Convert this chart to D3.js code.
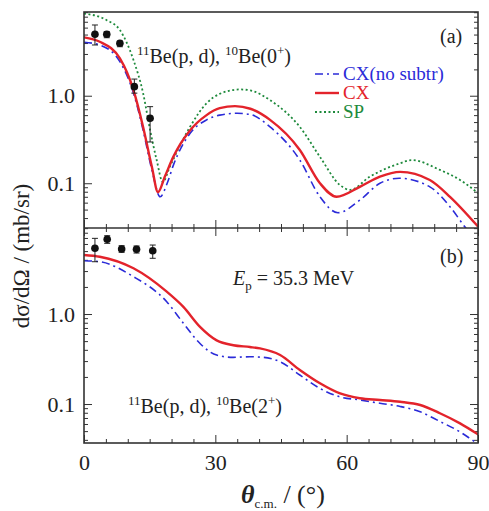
<!DOCTYPE html>
<html>
<head>
<meta charset="utf-8">
<script src="https://cdn.jsdelivr.net/npm/d3@7"></script>
<style>
  html, body { margin: 0; padding: 0; background: #fff; }
  svg text { font-family: "Liberation Serif", "Times New Roman", Times, serif; }
</style>
</head>
<body>
<svg id="chart" width="489" height="511"></svg>
<script>
// ---------- DATA ----------
// Panel (a): 11Be(p,d)10Be(0+)
const thetaA_CX   = [0, 3.6, 8.2, 11.3, 13.5, 15.5, 16.9, 18.5, 20.4, 24.2, 28, 31, 34.5, 38, 42.5, 49.3, 53.9, 57.7, 63, 67.6, 72.2, 79, 83.6, 90];
const valueA_CX   = [4.65, 4.14, 2.67, 1.16, 0.44, 0.154, 0.079, 0.12, 0.2, 0.4, 0.6, 0.72, 0.76, 0.71, 0.53, 0.24, 0.1, 0.07, 0.091, 0.119, 0.135, 0.109, 0.07, 0.032];
const thetaA_NoSub = [0, 3.6, 8.2, 11.3, 13.5, 15.5, 17.4, 19, 20.4, 24.2, 28, 31, 35, 38, 42.5, 49.3, 53.9, 58, 63, 67.6, 72, 79, 83.6, 87.4, 90];
const valueA_NoSub = [4.08, 3.8, 2.45, 1.07, 0.405, 0.142, 0.07, 0.1, 0.16, 0.37, 0.53, 0.6, 0.63, 0.61, 0.44, 0.184, 0.07, 0.046, 0.064, 0.1, 0.114, 0.091, 0.054, 0.03, 0.022];
const thetaA_SP   = [0, 5.2, 8.2, 11.3, 13.5, 15.1, 16.6, 18, 19.6, 24.2, 28, 31, 35.6, 38, 42.5, 49.3, 53.9, 58.5, 60.8, 65.3, 72.2, 74.8, 81.3, 85.9, 90];
const valueA_SP   = [8.7, 7.3, 5.63, 2.56, 1.07, 0.405, 0.184, 0.103, 0.154, 0.44, 0.82, 1.05, 1.18, 1.15, 0.89, 0.44, 0.2, 0.095, 0.084, 0.119, 0.169, 0.184, 0.142, 0.109, 0.077];
const thetaA_exp  = [2.5, 5.2, 8.2, 11.5, 15.1];
const valueA_exp  = [5.03, 5.03, 3.97, 1.27, 0.552];
const lowA_exp    = [3.8, 4.6, 3.63, 1.07, 0.296];
const highA_exp   = [6.43, 5.39, 4.2, 1.55, 0.75];

// Panel (b): 11Be(p,d)10Be(2+)
const thetaB_CX   = [0, 3.6, 11.3, 18.9, 22.7, 26.5, 30.3, 34.1, 37.9, 40.2, 44.8, 49.3, 53.9, 58.5, 63, 67.6, 72.2, 76.8, 81.3, 85.9, 90];
const valueB_CX   = [4.53, 4.33, 3.22, 1.77, 1.2, 0.72, 0.51, 0.45, 0.43, 0.415, 0.35, 0.239, 0.17, 0.131, 0.116, 0.111, 0.106, 0.0975, 0.079, 0.061, 0.046];
const thetaB_NoSub = [0, 3.6, 11.3, 18.9, 22.7, 26.5, 30.3, 34.1, 37.9, 41, 44.8, 49.3, 53.9, 58.5, 63, 67.6, 72.2, 76.8, 81.3, 85.9, 88, 90];
const valueB_NoSub = [3.91, 3.81, 2.6, 1.37, 0.79, 0.47, 0.35, 0.33, 0.335, 0.33, 0.295, 0.21, 0.149, 0.12, 0.111, 0.102, 0.094, 0.082, 0.064, 0.049, 0.042, 0.036];
const thetaB_exp  = [2.5, 5.3, 8.6, 12.0, 15.7];
const valueB_exp  = [5.37, 6.76, 5.27, 5.23, 5.05];
const lowB_exp    = [3.81, 6.1, 4.85, 4.76, 4.16];
const highB_exp   = [6.93, 7.41, 5.74, 5.7, 5.84];

const xTicksMajor = [0, 30, 60, 90];
const yTicksMajor = [0.1, 1.0];

// ---------- LAYOUT ----------
const FONT = "'Liberation Serif', 'Times New Roman', Times, serif";
const svg = d3.select("#chart");
const left = 84, right = 478;
const topA = 12, botA = 228, topB = 228, botB = 443;
const frameColor = "#333";
const colRed = "#e3232b", colBlue = "#2b2bd8", colGreen = "#1e8a3c";

const x = d3.scaleLinear().domain([0, 90]).range([left, right]);
const yA = d3.scaleLog().domain([0.0308, 9.05]).range([botA, topA]);
const yB = d3.scaleLog().domain([0.0369, 9.03]).range([botB, topB]);

function minorLog(scale) {
  const [lo, hi] = scale.domain();
  const out = [];
  for (let e = -3; e <= 1; e++) {
    for (let m = 2; m <= 9; m++) {
      const v = m * Math.pow(10, e);
      if (v >= lo && v <= hi) out.push(v);
    }
  }
  return out;
}
const xMinor = d3.range(0, 91, 5).filter(d => d % 30 !== 0);

function styleAxis(g) {
  g.attr("font-family", FONT);
  g.select(".domain").remove();
  g.selectAll(".tick line").attr("stroke", frameColor).attr("stroke-width", 1);
  g.selectAll(".tick text").attr("fill", "#222").attr("font-family", FONT).attr("font-size", 22);
}

function drawPanel(y, top, bot, opts) {
  svg.append("g").attr("transform", `translate(${left},0)`)
    .call(d3.axisLeft(y).tickValues(yTicksMajor).tickSize(-8).tickPadding(9).tickFormat(d3.format(".1f")))
    .call(styleAxis);
  svg.append("g").attr("transform", `translate(${left},0)`)
    .call(d3.axisLeft(y).tickValues(minorLog(y)).tickSize(-4).tickFormat(""))
    .call(styleAxis);
  svg.append("g").attr("transform", `translate(${right},0)`)
    .call(d3.axisRight(y).tickValues(yTicksMajor).tickSize(-8).tickFormat(""))
    .call(styleAxis);
  svg.append("g").attr("transform", `translate(${right},0)`)
    .call(d3.axisRight(y).tickValues(minorLog(y)).tickSize(-4).tickFormat(""))
    .call(styleAxis);
  svg.append("g").attr("transform", `translate(0,${bot})`)
    .call(d3.axisBottom(x).tickValues(xTicksMajor).tickSize(-8).tickPadding(11).tickFormat(opts.xLabels ? d3.format("d") : ""))
    .call(styleAxis);
  svg.append("g").attr("transform", `translate(0,${bot})`)
    .call(d3.axisBottom(x).tickValues(xMinor).tickSize(-4).tickFormat(""))
    .call(styleAxis);
  if (opts.topTicks) {
    svg.append("g").attr("transform", `translate(0,${top})`)
      .call(d3.axisTop(x).tickValues(xTicksMajor).tickSize(-8).tickFormat(""))
      .call(styleAxis);
    svg.append("g").attr("transform", `translate(0,${top})`)
      .call(d3.axisTop(x).tickValues(xMinor).tickSize(-4).tickFormat(""))
      .call(styleAxis);
  }
}

drawPanel(yA, topA, botA, { xLabels: false, topTicks: false });
drawPanel(yB, topB, botB, { xLabels: true, topTicks: true });

const defs = svg.append("defs");
defs.append("clipPath").attr("id", "clipA").append("rect")
  .attr("x", left).attr("y", topA).attr("width", right - left).attr("height", botA - topA);
defs.append("clipPath").attr("id", "clipB").append("rect")
  .attr("x", left).attr("y", topB).attr("width", right - left).attr("height", botB - topB);

function curve(y, thetas, vals, color, width, dash, clip) {
  const pts = thetas.map((t, i) => [t, vals[i]]);
  const line = d3.line().x(d => x(d[0])).y(d => y(d[1])).curve(d3.curveMonotoneX);
  svg.append("path").datum(pts)
    .attr("clip-path", `url(#${clip})`)
    .attr("d", line)
    .attr("fill", "none")
    .attr("stroke", color)
    .attr("stroke-width", width)
    .attr("stroke-dasharray", dash)
    .attr("stroke-linecap", dash ? "butt" : "round");
}

function points(y, thetas, vals, lows, highs) {
  const g = svg.append("g");
  thetas.forEach((t, i) => {
    const cx = x(t);
    g.append("line").attr("x1", cx).attr("x2", cx).attr("y1", y(lows[i])).attr("y2", y(highs[i]))
      .attr("stroke", "#222").attr("stroke-width", 1);
    [lows[i], highs[i]].forEach(v => {
      g.append("line").attr("x1", cx - 3).attr("x2", cx + 3).attr("y1", y(v)).attr("y2", y(v))
        .attr("stroke", "#222").attr("stroke-width", 1);
    });
    g.append("circle").attr("cx", cx).attr("cy", y(vals[i])).attr("r", 3.8).attr("fill", "#111");
  });
}

const dashDot = "8,4,2,4";
const dotted = "2,2.5";

curve(yA, thetaA_SP, valueA_SP, colGreen, 1.8, dotted, "clipA");
curve(yA, thetaA_NoSub, valueA_NoSub, colBlue, 1.6, dashDot, "clipA");
curve(yA, thetaA_CX, valueA_CX, colRed, 2.4, null, "clipA");
points(yA, thetaA_exp, valueA_exp, lowA_exp, highA_exp);

curve(yB, thetaB_NoSub, valueB_NoSub, colBlue, 1.6, dashDot, "clipB");
curve(yB, thetaB_CX, valueB_CX, colRed, 2.4, null, "clipB");
points(yB, thetaB_exp, valueB_exp, lowB_exp, highB_exp);

svg.append("rect").attr("x", left).attr("y", topA).attr("width", right - left).attr("height", botB - topA)
  .attr("fill", "none").attr("stroke", frameColor).attr("stroke-width", 1.6);
svg.append("line").attr("x1", left).attr("x2", right).attr("y1", botA).attr("y2", botA)
  .attr("stroke", frameColor).attr("stroke-width", 1.6);

// ---------- TEXT ----------
const fs = 20;
function txt(xp, yp, size, color) {
  return svg.append("text").attr("x", xp).attr("y", yp).attr("font-size", size)
    .attr("font-family", FONT).attr("fill", color || "#222");
}
function reaction(xp, yp, state) {
  const t = txt(xp, yp, fs);
  t.append("tspan").attr("font-size", 13).attr("dy", -8).text("11");
  t.append("tspan").attr("dy", 8).text("Be(p, d), ");
  t.append("tspan").attr("font-size", 13).attr("dy", -8).text("10");
  t.append("tspan").attr("dy", 8).text("Be(" + state);
  t.append("tspan").attr("font-size", 13).attr("dy", -8).text("+");
  t.append("tspan").attr("dy", 8).text(")");
}
reaction(137, 63, "0");
reaction(128, 413, "2");

txt(440, 43, fs).text("(a)");
txt(440, 263, fs).text("(b)");

const ep = txt(233, 285, fs);
ep.append("tspan").attr("font-style", "italic").text("E");
ep.append("tspan").attr("font-size", 13).attr("dy", 5).text("p");
ep.append("tspan").attr("dy", -5).text(" = 35.3 MeV");

const legend = [
  { label: "CX(no subtr)", color: colBlue, dash: dashDot, w: 1.6, y: 74 },
  { label: "CX", color: colRed, dash: null, w: 2.4, y: 93 },
  { label: "SP", color: colGreen, dash: dotted, w: 1.8, y: 112 }
];
legend.forEach(d => {
  svg.append("line").attr("x1", 315).attr("x2", 339).attr("y1", d.y).attr("y2", d.y)
    .attr("stroke", d.color).attr("stroke-width", d.w).attr("stroke-dasharray", d.dash);
  txt(343, d.y + 6, 19, d.color).text(d.label);
});

svg.append("text").attr("transform", "translate(29,256) rotate(-90)")
  .attr("text-anchor", "middle").attr("font-size", 23).attr("font-family", FONT).attr("fill", "#222")
  .text("dσ/dΩ / (mb/sr)");

const xt = txt(241, 503, 26);
xt.append("tspan").attr("font-style", "italic").attr("font-weight", "bold").text("θ");
xt.append("tspan").attr("font-size", 13).attr("dy", 5).text("c.m.");
xt.append("tspan").attr("dy", -5).text(" / (°)");
</script>
</body>
</html>
